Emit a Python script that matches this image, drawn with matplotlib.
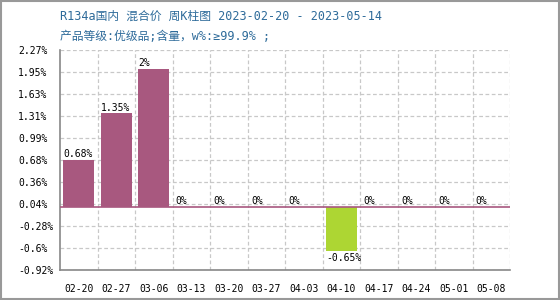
import matplotlib
matplotlib.use("Agg")
import matplotlib.pyplot as plt
from matplotlib.patches import Rectangle

plt.rcParams['font.family'] = ['DejaVu Sans Mono', 'Noto Sans CJK SC']

categories = ["02-20", "02-27", "03-06", "03-13", "03-20", "03-27", "04-03",
              "04-10", "04-17", "04-24", "05-01", "05-08"]
values = [0.68, 1.35, 2.0, 0, 0, 0, 0, -0.65, 0, 0, 0, 0]
labels = ["0.68%", "1.35%", "2%", "0%", "0%", "0%", "0%", "-0.65%", "0%", "0%", "0%", "0%"]
yticks = [-0.92, -0.6, -0.28, 0.04, 0.36, 0.68, 0.99, 1.31, 1.63, 1.95, 2.27]
ytick_labels = ["-0.92%", "-0.6%", "-0.28%", "0.04%", "0.36%", "0.68%", "0.99%",
                "1.31%", "1.63%", "1.95%", "2.27%"]
title1 = "R134a国内 混合价 周K柱图 2023-02-20 - 2023-05-14"
title2 = "产品等级:优级品;含量，w%:≥99.9% ;"

pos_color = "#A8587F"
neg_color = "#ADD633"
fs = 7

fig = plt.figure(figsize=(5.6, 3.0), dpi=100)
ax = fig.add_axes([60/560, 1 - 270/300, 450/560, 220/300])

x = list(range(len(categories)))
colors = [pos_color if v >= 0 else neg_color for v in values]
ax.bar(x, values, width=0.83, color=colors, zorder=3)
ax.axhline(0, color=pos_color, lw=1.2, zorder=4)

for xi, v, lab in zip(x, values, labels):
    if v >= 0:
        ax.text(xi - 0.41, v + 0.005, lab, ha='left', va='bottom', fontsize=fs, zorder=5)
    else:
        ax.text(xi - 0.41, v - 0.03, lab, ha='left', va='top', fontsize=fs, zorder=5)

ax.set_xlim(-0.5, len(categories) - 0.5)
ax.set_ylim(-0.92, 2.27)
ax.set_yticks(yticks)
ax.set_yticklabels(ytick_labels, fontsize=fs)
for t in ax.get_yticklabels():
    t.set_horizontalalignment('left')
ax.set_xticks(x)
ax.set_xticklabels(categories, fontsize=fs)
ax.set_xticks([i - 0.5 for i in range(1, len(categories) + 1)], minor=True)
ax.tick_params(axis='both', which='both', length=0)
ax.tick_params(axis='y', pad=30)
ax.tick_params(axis='x', pad=10)

ax.grid(False)
ax.yaxis.grid(True, color="#C8C8C8", ls=(0, (3, 2)), lw=0.9)
ax.xaxis.grid(True, which='minor', color="#C8C8C8", ls=(0, (3, 2)), lw=0.9)
ax.set_axisbelow(True)
for s in ['top', 'right']:
    ax.spines[s].set_visible(False)
for s in ['left', 'bottom']:
    ax.spines[s].set_color("#888888")
    ax.spines[s].set_linewidth(1.2)

fig.text(60/560, 1 - 16/300, title1, color="#2E6B9A", fontsize=8.5, va='center')
fig.text(60/560, 1 - 36/300, title2, color="#2E6B9A", fontsize=8.5, va='center')

fig.patches.append(Rectangle((0.002, 0.003), 0.996, 0.994, transform=fig.transFigure,
                             fill=False, edgecolor="#999999", lw=1.5))

fig.savefig("out.png", dpi=100)
